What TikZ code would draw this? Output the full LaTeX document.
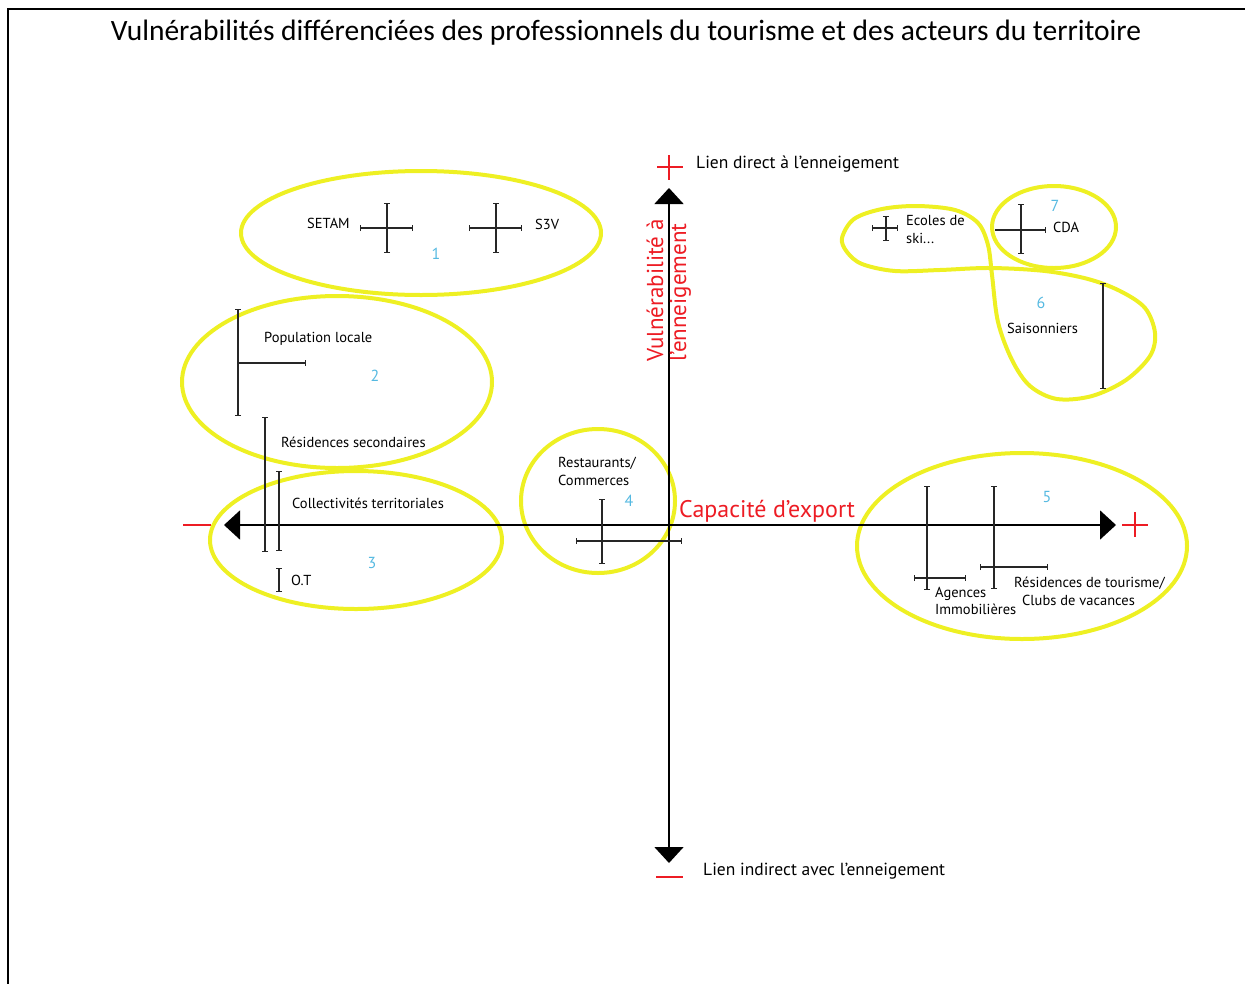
\documentclass[tikz,border=0pt]{standalone}
\usepackage{fontspec}
\setmainfont{PT Sans}
\newfontfamily\titlefont{Carlito}
\usetikzlibrary{arrows.meta}
\definecolor{hl}{RGB}{238,240,35}
\definecolor{numc}{RGB}{85,185,225}
\definecolor{axred}{RGB}{237,28,36}
\tikzset{
  hlring/.style={draw=hl, line width=4pt},
  bar/.style={draw=black!85, line width=1.1pt},
  bb/.style={bar, {Bar[width=6pt]}-{Bar[width=6pt]}},
  be/.style={bar, -{Bar[width=6pt]}},
  lbl/.style={font=\fontsize{14.5}{18}\selectfont, inner sep=0pt, anchor=base west},
  axlbl/.style={font=\fontsize{17.5}{21}\selectfont, inner sep=0pt, anchor=base west},
  redlbl/.style={text=axred, font=\fontsize{24}{28}\selectfont, inner sep=0pt, anchor=base west},
  num/.style={text=numc, font=\fontsize{16}{18}\selectfont, inner sep=0pt, anchor=base},
  axline/.style={line width=1.6pt},
  redsign/.style={draw=axred, line width=1.3pt},
  tri/.style={{Triangle[width=29pt,length=16pt]}-{Triangle[width=29pt,length=16pt]}}
}
\begin{document}
\begin{tikzpicture}[x=1pt,y=-1pt]
\useasboundingbox (0,0) rectangle (1245,983);
% frame
\draw[line width=2.2pt] (8,990) -- (8,9) -- (1250,9);
% title
\node[font=\titlefont\fontsize{29.5}{34}\selectfont, anchor=base, inner sep=0pt] (title) at (626,40)
  {Vulnérabilités différenciées des professionnels du tourisme et des acteurs du territoire};

% highlight rings
\draw[hlring] (421,233) ellipse [x radius=180, y radius=62];
\draw[hlring] (337,382) ellipse [x radius=155, y radius=86];
\draw[hlring] (356,540) ellipse [x radius=146, y radius=69];
\draw[hlring] (598,501) ellipse [x radius=77, y radius=72];
\draw[hlring] (1022,546) ellipse [x radius=165, y radius=93];
\draw[hlring] (1054,227) ellipse [x radius=62, y radius=41];
\draw[hlring] plot[smooth cycle, tension=0.55] coordinates {
  (842,238) (854,219) (882,209) (917,206) (955,210) (978,223) (988,245)
  (992,275) (998,322) (1012,360) (1030,386) (1057,399) (1092,396)
  (1126,380) (1150,356) (1155,333) (1145,308) (1120,291) (1088,279)
  (1045,271) (990,268) (940,270) (895,271) (862,264) (847,252)};

% axes
\coordinate (ytop) at (669,188);
\coordinate (ybot) at (669,863);
\coordinate (xleft) at (224,525);
\coordinate (xright) at (1116,525);
\draw[axline, tri] (ybot) -- (ytop);
\draw[axline, tri] (xleft) -- (xright);

% red signs
\draw[redsign] (657,167) -- (683,167) (669,155) -- (669,180);
\draw[redsign] (656,877) -- (683,877);
\draw[redsign] (183,525) -- (211,525);
\draw[redsign] (1122,525) -- (1148,525) (1135,512) -- (1135,537);

% axis labels
\node[axlbl] (direct) at (696,168) {Lien direct à l’enneigement};
\node[axlbl] (indirect) at (703,875) {Lien indirect avec l’enneigement};
\node[redlbl] (export) at (679,517) {Capacité d’export};
\node[redlbl, font=\fontsize{23}{27}\selectfont, rotate=90] (vul1) at (663,362) {Vulnérabilité à};
\node[redlbl, font=\fontsize{23}{27}\selectfont, rotate=90] (vul2) at (686,362) {l’enneigement};

% group 1
\draw[bb] (387,203) -- (387,253);
\draw[bb] (360,228) -- (413,228);
\node[lbl] (setam) at (307,228) {SETAM};
\draw[bb] (496,203) -- (496,253);
\draw[bb] (469,228) -- (522,228);
\node[lbl] (s3v) at (535,229) {S3V};
\node[num] (n1) at (436,259) {1};

% group 2
\draw[bb] (238,309) -- (238,416);
\draw[be] (238,363) -- (306,363);
\node[lbl] (pop) at (264,342) {Population locale};
\draw[bb] (265,417) -- (265,552);
\node[lbl] (res) at (281,447) {Résidences secondaires};
\node[num] (n2) at (375,381) {2};

% group 3
\draw[bb] (279,471) -- (279,551);
\node[lbl] (coll) at (292,508) {Collectivités territoriales};
\draw[bb] (279,568) -- (279,592);
\node[lbl] (ot) at (291,585) {O.T};
\node[num] (n3) at (372,568) {3};

% group 4
\draw[bb] (602,499) -- (602,564);
\draw[bb] (576,541) -- (682,541);
\node[lbl] (resto1) at (558,467) {Restaurants/};
\node[lbl] (resto2) at (558,485) {Commerces};
\node[num] (n4) at (629,506) {4};

% group 5
\draw[bb] (927,486) -- (927,590);
\draw[bb] (914,578) -- (966,578);
\node[lbl] (agences1) at (935,597) {Agences};
\node[lbl] (agences2) at (935,614) {Immobilières};
\draw[bb] (994,486) -- (994,589);
\draw[bb] (980,567) -- (1048,567);
\node[lbl] (tour1) at (1014,587) {Résidences de tourisme/};
\node[lbl] (tour2) at (1022,605) {Clubs de vacances};
\node[num] (n5) at (1047,502) {5};

% group 6 / 7
\draw[bb] (886,216) -- (886,241);
\draw[bb] (872,228) -- (898,228);
\node[lbl] (ecoles1) at (906,225) {Ecoles de};
\node[lbl] (ecoles2) at (906,243) {ski...};
\draw[bb] (1021,204) -- (1021,254);
\draw[be] (995,230) -- (1046,230);
\node[lbl] (cda) at (1053,232) {CDA};
\node[num] (n7) at (1055,211) {7};
\draw[bb] (1103,283) -- (1103,389);
\node[lbl] (sais) at (1007,333) {Saisonniers};
\node[num] (n6) at (1041,308) {6};
\end{tikzpicture}
\end{document}
